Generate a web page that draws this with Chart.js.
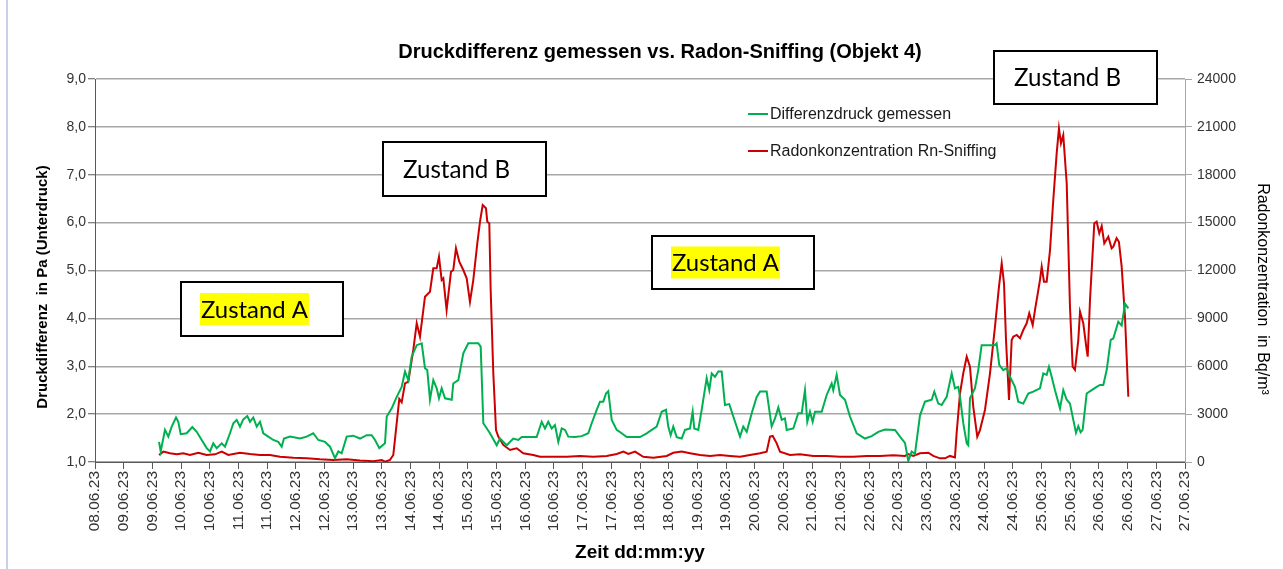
<!DOCTYPE html>
<html lang="de">
<head>
<meta charset="utf-8">
<title>Druckdifferenz gemessen vs. Radon-Sniffing (Objekt 4)</title>
<script src="https://cdn.jsdelivr.net/npm/chart.js@4.4.1/dist/chart.umd.min.js"></script>
<style>
  html, body { margin: 0; padding: 0; background: #ffffff; }
  #radonChart { display: block; }
</style>
</head>
<body>
<canvas id="radonChart" width="1283" height="569"></canvas>
<script>
// Zeitachse: Tage ab dem ersten Teilstrich (08.06.23), Teilstriche alle 12 h
const xTickLabels = [
    "08.06.23", "09.06.23", "09.06.23", "10.06.23", "10.06.23", "11.06.23", "11.06.23",
    "12.06.23", "12.06.23", "13.06.23", "13.06.23", "14.06.23", "14.06.23", "15.06.23",
    "15.06.23", "16.06.23", "16.06.23", "17.06.23", "17.06.23", "18.06.23", "18.06.23",
    "19.06.23", "19.06.23", "20.06.23", "20.06.23", "21.06.23", "21.06.23", "22.06.23",
    "22.06.23", "23.06.23", "23.06.23", "24.06.23", "24.06.23", "25.06.23", "25.06.23",
    "26.06.23", "26.06.23", "27.06.23", "27.06.23"
];
const yLinksTicks = ["1,0", "2,0", "3,0", "4,0", "5,0", "6,0", "7,0", "8,0", "9,0"];
const yRechtsTicks = ["0", "3000", "6000", "9000", "12000", "15000", "18000", "21000", "24000"];

// Differenzdruck gemessen (Pa)
const zeitDruck = [
    1.116, 1.145, 1.22, 1.278, 1.337, 1.412, 1.452, 1.494, 1.598, 1.696,
    1.773, 1.86, 1.947, 2.005, 2.062, 2.121, 2.209, 2.266, 2.353, 2.411,
    2.47, 2.527, 2.585, 2.655, 2.702, 2.759, 2.819, 2.876, 2.934, 3.021,
    3.108, 3.195, 3.254, 3.294, 3.399, 3.573, 3.69, 3.805, 3.892, 4.009,
    4.096, 4.183, 4.241, 4.3, 4.387, 4.502, 4.619, 4.736, 4.823, 4.881,
    4.956, 5.055, 5.085, 5.172, 5.259, 5.346, 5.404, 5.461, 5.52, 5.608,
    5.695, 5.752, 5.792, 5.839, 5.897, 5.956, 5.996, 6.043, 6.101, 6.218,
    6.245, 6.333, 6.42, 6.507, 6.681, 6.723, 6.769, 6.885, 7.002, 7.059,
    7.176, 7.291, 7.379, 7.438, 7.64, 7.699, 7.786, 7.844, 7.901, 7.961,
    8.018, 8.076, 8.135, 8.193, 8.25, 8.367, 8.484, 8.599, 8.658, 8.745,
    8.803, 8.86, 8.907, 8.947, 9.007, 9.094, 9.181, 9.268, 9.5, 9.617,
    9.704, 9.791, 9.878, 9.953, 9.993, 10.035, 10.08, 10.14, 10.227, 10.284,
    10.371, 10.418, 10.446, 10.516, 10.575, 10.662, 10.708, 10.75, 10.807, 10.865,
    10.924, 10.981, 11.056, 11.126, 11.243, 11.3, 11.36, 11.447, 11.534, 11.592,
    11.708, 11.795, 11.853, 11.911, 11.97, 12.027, 12.057, 12.172, 12.259, 12.318,
    12.376, 12.416, 12.463, 12.51, 12.55, 12.667, 12.754, 12.841, 12.869, 12.928,
    12.986, 13.073, 13.16, 13.277, 13.422, 13.538, 13.654, 13.77, 13.945, 14.032,
    14.119, 14.176, 14.235, 14.293, 14.38, 14.467, 14.584, 14.63, 14.699, 14.758,
    14.846, 14.933, 14.99, 15.048, 15.078, 15.135, 15.195, 15.222, 15.252, 15.339,
    15.396, 15.455, 15.542, 15.687, 15.716, 15.762, 15.832, 15.891, 15.949, 16.036,
    16.094, 16.181, 16.268, 16.355, 16.472, 16.53, 16.589, 16.629, 16.676, 16.734,
    16.821, 16.878, 16.938, 16.995, 17.053, 17.1, 17.14, 17.181, 17.216, 17.286,
    17.373, 17.46, 17.518, 17.576, 17.635, 17.705, 17.75, 17.837, 17.896, 17.954,
    18.012
];
const differenzdruck = [
    1.42, 1.22, 1.67, 1.53, 1.74, 1.93, 1.84, 1.58, 1.60, 1.73,
    1.63, 1.46, 1.29, 1.22, 1.39, 1.29, 1.39, 1.32, 1.60, 1.81,
    1.88, 1.74, 1.89, 1.96, 1.84, 1.93, 1.74, 1.84, 1.60, 1.53,
    1.46, 1.42, 1.32, 1.49, 1.53, 1.49, 1.53, 1.60, 1.46, 1.42,
    1.32, 1.08, 1.22, 1.18, 1.53, 1.55, 1.49, 1.56, 1.56, 1.46,
    1.29, 1.39, 1.95, 2.12, 2.36, 2.57, 2.89, 2.71, 3.20, 3.44,
    3.48, 2.96, 2.92, 2.30, 2.71, 2.54, 2.33, 2.54, 2.33, 2.30,
    2.64, 2.71, 3.27, 3.48, 3.48, 3.41, 1.81, 1.60, 1.35, 1.49,
    1.35, 1.49, 1.46, 1.52, 1.52, 1.52, 1.84, 1.70, 1.84, 1.70,
    1.77, 1.42, 1.70, 1.67, 1.53, 1.52, 1.54, 1.60, 1.81, 2.09,
    2.26, 2.26, 2.43, 2.48, 1.88, 1.67, 1.60, 1.52, 1.52, 1.60,
    1.67, 1.74, 2.05, 2.09, 1.74, 1.56, 1.74, 1.52, 1.49, 1.67,
    1.70, 2.05, 1.70, 1.67, 2.09, 2.75, 2.50, 2.85, 2.78, 2.89,
    2.89, 2.19, 2.21, 1.95, 1.53, 1.74, 1.63, 2.02, 2.36, 2.47,
    2.47, 1.74, 1.91, 2.14, 1.88, 1.91, 1.67, 1.70, 2.02, 2.02,
    2.50, 1.84, 2.05, 1.84, 2.05, 2.05, 2.40, 2.64, 2.50, 2.82,
    2.40, 2.30, 1.95, 1.60, 1.49, 1.54, 1.63, 1.68, 1.67, 1.53,
    1.40, 1.02, 1.22, 1.17, 1.97, 2.26, 2.30, 2.47, 2.22, 2.19,
    2.36, 2.85, 2.54, 2.57, 2.36, 1.81, 1.39, 1.35, 2.33, 2.54,
    2.92, 3.44, 3.44, 3.44, 3.48, 3.03, 2.92, 2.96, 2.78, 2.57,
    2.26, 2.22, 2.43, 2.47, 2.54, 2.85, 2.82, 2.99, 2.78, 2.50,
    2.12, 2.50, 2.30, 2.22, 1.88, 1.61, 1.75, 1.62, 1.67, 2.43,
    2.50, 2.57, 2.61, 2.61, 2.92, 3.55, 3.58, 3.93, 3.85, 4.31,
    4.21
];

// Radonkonzentration Rn-Sniffing (Bq/m³)
const zeitRadon = [
    1.116, 1.191, 1.307, 1.424, 1.539, 1.656, 1.801, 1.947, 2.092, 2.209,
    2.324, 2.527, 2.702, 2.876, 3.05, 3.225, 3.457, 3.69, 3.922, 4.154,
    4.387, 4.619, 4.851, 4.997, 5.055, 5.142, 5.2, 5.259, 5.304, 5.346,
    5.404, 5.461, 5.548, 5.608, 5.665, 5.752, 5.839, 5.897, 5.956, 5.996,
    6.043, 6.072, 6.129, 6.205, 6.245, 6.292, 6.35, 6.42, 6.479, 6.536,
    6.594, 6.664, 6.711, 6.758, 6.815, 6.838, 6.873, 6.897, 6.943, 6.99,
    7.03, 7.117, 7.234, 7.351, 7.466, 7.64, 7.757, 7.989, 8.222, 8.454,
    8.686, 8.919, 9.094, 9.21, 9.297, 9.414, 9.557, 9.732, 9.965, 10.08,
    10.227, 10.371, 10.546, 10.721, 10.895, 11.069, 11.243, 11.417, 11.592, 11.708,
    11.766, 11.813, 11.883, 11.94, 12.114, 12.289, 12.521, 12.754, 12.986, 13.218,
    13.451, 13.683, 13.915, 14.119, 14.176, 14.263, 14.38, 14.525, 14.612, 14.729,
    14.816, 14.903, 14.99, 15.019, 15.078, 15.135, 15.195, 15.252, 15.309, 15.379,
    15.426, 15.513, 15.601, 15.688, 15.757, 15.805, 15.845, 15.88, 15.932, 15.979,
    16.007, 16.066, 16.124, 16.181, 16.24, 16.285, 16.345, 16.385, 16.472, 16.502,
    16.542, 16.589, 16.647, 16.704, 16.763, 16.803, 16.838, 16.878, 16.938, 16.995,
    17.042, 17.082, 17.14, 17.17, 17.227, 17.286, 17.304, 17.344, 17.419, 17.46,
    17.506, 17.548, 17.593, 17.663, 17.721, 17.75, 17.808, 17.848, 17.896, 17.954,
    18.012
];
const radonkonzentration = [
    440, 650, 550, 480, 550, 440, 580, 440, 480, 650,
    440, 580, 500, 440, 440, 330, 270, 230, 170, 130,
    170, 100, 50, 130, 20, 130, 440, 2430, 3950, 3740,
    4930, 5030, 7020, 8690, 7850, 10360, 10670, 12140, 12140, 12860,
    11400, 11510, 9520, 11920, 12030, 13390, 12550, 12030, 11510, 10040,
    11400, 13700, 15060, 16100, 15900, 15060, 14960, 10780, 5560, 2000,
    1590, 1070, 750, 860, 550, 440, 330, 330, 330, 380,
    330, 380, 500, 650, 500, 650, 330, 270, 380, 580,
    650, 550, 440, 380, 440, 380, 330, 440, 550, 650,
    1590, 1630, 1170, 650, 440, 480, 380, 380, 330, 330,
    380, 380, 420, 380, 500, 380, 550, 580, 380, 230,
    230, 380, 290, 1800, 4300, 5560, 6600, 5970, 3470, 1590,
    2000, 3260, 5560, 8480, 10980, 12450, 11200, 7640, 3890, 7640,
    7850, 7960, 7750, 8270, 8690, 9320, 8580, 9520, 11400, 12240,
    11300, 11300, 13280, 16420, 19340, 20910, 19970, 20490, 17460, 9730,
    5970, 5770, 7640, 9420, 8690, 7020, 6600, 10150, 14960, 15060,
    14330, 14790, 13700, 14120, 13390, 13490, 14020, 13800, 12240, 9100,
    4090
];

const titel = "Druckdifferenz gemessen vs. Radon-Sniffing (Objekt 4)";
const serienNamen = ["Differenzdruck gemessen", "Radonkonzentration Rn-Sniffing"];
const serienFarben = ["#00b050", "#cc0000"];

const schrift = '"Liberation Sans", Arial, sans-serif';

function zustandBox(ctx, text, x, y, w, h, markiert) {
    ctx.fillStyle = "#ffffff";
    ctx.fillRect(x, y, w, h);
    ctx.lineWidth = 2;
    ctx.strokeStyle = "#000000";
    ctx.strokeRect(x, y, w, h);

    // Schriftgroesse so waehlen, dass der Text ca. 107 px breit ist
    ctx.font = '100px Lato, "Open Sans", sans-serif';
    const groesse = 100 * 107 / ctx.measureText(text).width;
    ctx.font = groesse.toFixed(1) + 'px Lato, "Open Sans", sans-serif';
    const breite = ctx.measureText(text).width;
    const tx = x + 20;
    const ty = y + h / 2;

    if (markiert) {
        ctx.fillStyle = "#ffff00";
        ctx.fillRect(tx - 1, ty - 16, breite + 2, 32);
    }
    ctx.fillStyle = "#000000";
    ctx.textAlign = "left";
    ctx.textBaseline = "middle";
    ctx.fillText(text, tx, ty + 1);
}

const beschriftung = {
    id: "beschriftung",
    afterDraw(chart) {
        const ctx = chart.ctx;
        ctx.save();

        // Rahmen links
        ctx.strokeStyle = "#c9d1ea";
        ctx.lineWidth = 2;
        ctx.beginPath();
        ctx.moveTo(7, 0);
        ctx.lineTo(7, 569);
        ctx.stroke();

        // Titel
        ctx.fillStyle = "#000000";
        ctx.textAlign = "center";
        ctx.textBaseline = "middle";
        ctx.font = "bold 20px " + schrift;
        ctx.fillText(titel, 660, 52);

        // Achsentitel
        ctx.font = "bold 19px " + schrift;
        ctx.fillText("Zeit dd:mm:yy", 640, 553);

        ctx.save();
        ctx.translate(43, 287);
        ctx.rotate(-Math.PI / 2);
        ctx.font = "bold 15px " + schrift;
        ctx.fillText("Druckdifferenz  in Pa (Unterdruck)", 0, 0);
        ctx.restore();

        ctx.save();
        ctx.translate(1262, 289);
        ctx.rotate(Math.PI / 2);
        ctx.font = "16px " + schrift;
        ctx.fillText("Radonkonzentration  in Bq/m³", 0, 0);
        ctx.restore();

        // Legende
        ctx.font = "16px " + schrift;
        ctx.textAlign = "left";
        const legendeY = [114, 151];
        serienNamen.forEach((name, i) => {
            ctx.strokeStyle = serienFarben[i];
            ctx.lineWidth = 2;
            ctx.beginPath();
            ctx.moveTo(748, legendeY[i]);
            ctx.lineTo(768, legendeY[i]);
            ctx.stroke();
            ctx.fillStyle = "#1a1a1a";
            ctx.fillText(name, 770, legendeY[i] + 1);
        });

        // Zustand-Kaesten
        zustandBox(ctx, "Zustand A", 181, 282, 162, 54, true);
        zustandBox(ctx, "Zustand B", 383, 142, 163, 54, false);
        zustandBox(ctx, "Zustand A", 652, 236, 162, 53, true);
        zustandBox(ctx, "Zustand B", 994, 51, 163, 53, false);

        ctx.restore();
    }
};

const ctx = document.getElementById("radonChart").getContext("2d");

new Chart(ctx, {
    type: "line",

    data: {
        datasets: [
            {
                label: serienNamen[0],
                data: zeitDruck.map((t, i) => ({ x: t, y: differenzdruck[i] })),
                borderColor: serienFarben[0],
                borderWidth: 2,
                pointRadius: 0,
                tension: 0,
                yAxisID: "y"
            },
            {
                label: serienNamen[1],
                data: zeitRadon.map((t, i) => ({ x: t, y: radonkonzentration[i] })),
                borderColor: serienFarben[1],
                borderWidth: 2,
                pointRadius: 0,
                tension: 0,
                yAxisID: "y1"
            }
        ]
    },

    options: {
        responsive: false,
        animation: false,
        devicePixelRatio: 1,
        layout: {
            padding: { top: 79, left: 0, right: 0, bottom: 0 }
        },

        plugins: {
            legend: { display: false },
            tooltip: { enabled: false },
            title: { display: false }
        },

        scales: {
            x: {
                type: "linear",
                min: 0,
                max: 19,
                afterFit: s => { s.height = 107; },
                ticks: {
                    stepSize: 0.5,
                    autoSkip: false,
                    minRotation: 90,
                    maxRotation: 90,
                    padding: 2,
                    color: "#333333",
                    font: { family: schrift, size: 15.5 },
                    callback: (v, i) => xTickLabels[i]
                },
                grid: {
                    drawOnChartArea: false,
                    tickLength: 7,
                    color: "#595959"
                },
                border: { color: "#595959" }
            },

            y: {
                position: "left",
                min: 1,
                max: 9,
                afterFit: s => { s.width = 95; },
                ticks: {
                    stepSize: 1,
                    padding: 2,
                    color: "#333333",
                    font: { family: schrift, size: 14 },
                    callback: (v, i) => yLinksTicks[i]
                },
                grid: {
                    color: "#a8a8a8",
                    lineWidth: 1.5,
                    tickColor: "#595959",
                    tickWidth: 1,
                    tickLength: 7
                },
                border: { color: "#595959" }
            },

            y1: {
                position: "right",
                min: 0,
                max: 24000,
                afterFit: s => { s.width = 98; },
                ticks: {
                    stepSize: 3000,
                    padding: 5,
                    color: "#333333",
                    font: { family: schrift, size: 14 },
                    callback: (v, i) => yRechtsTicks[i]
                },
                grid: {
                    drawOnChartArea: false,
                    color: "#a6a6a6",
                    tickLength: 7
                },
                border: { color: "#a6a6a6" }
            }
        }
    },

    plugins: [beschriftung]
});
</script>
</body>
</html>
